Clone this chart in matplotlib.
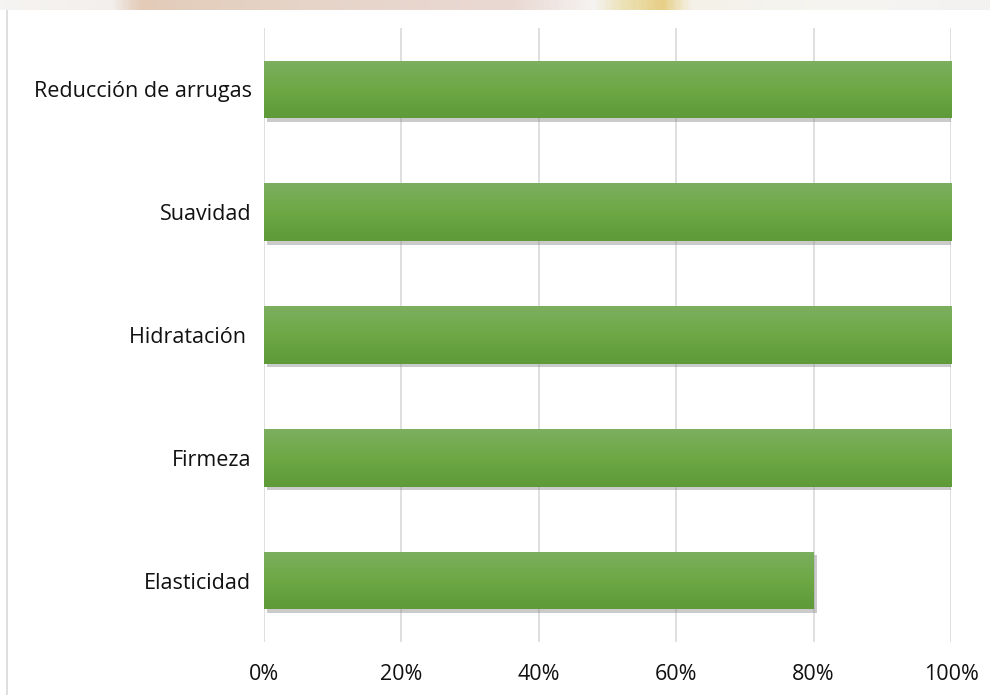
import numpy as np
import matplotlib.pyplot as plt
import matplotlib.patheffects as pe
from matplotlib.colors import LinearSegmentedColormap
from matplotlib.patches import Rectangle

categories = ['Elasticidad', 'Firmeza', 'Hidratación ', 'Suavidad', 'Reducción de arrugas']
values = [0.80, 1.0, 1.0, 1.0, 1.0]
x_ticks = [0, 0.2, 0.4, 0.6, 0.8, 1.0]
x_ticklabels = ['0%', '20%', '40%', '60%', '80%', '100%']

plt.rcParams['font.family'] = ['Open Sans', 'DejaVu Sans']

W, H = 990, 695
fig = plt.figure(figsize=(W / 100, H / 100), dpi=100)

# faded watermark strip above the chart box
band = fig.add_axes([0, 1 - 10 / H, 1, 10 / H])
band.axis('off')
band_cmap = LinearSegmentedColormap.from_list('band', [
    (0.00, '#f6f4f2'), (0.11, '#f3efec'), (0.14, '#e3cbb8'), (0.30, '#e6d4c8'),
    (0.52, '#ead9d3'), (0.60, '#f5f3f1'), (0.63, '#ece2b8'), (0.67, '#e7cf87'),
    (0.70, '#f4f1e8'), (0.85, '#f6f5f2'), (1.00, '#f3f2f1')])
band.imshow(np.linspace(0, 1, 400)[None, :], aspect='auto', cmap=band_cmap, extent=[0, 1, 0, 1])

# chart box border
fig.patches.append(Rectangle((6.5 / W, -0.05), 1.0, 1 - 9.5 / H + 0.05, transform=fig.transFigure,
                             facecolor='white', edgecolor='#d9d9d9', linewidth=1.2, zorder=-10))

ax = fig.add_axes([264 / W, 1 - 642 / H, (951 - 264) / W, (642 - 28) / H])
ax.set_facecolor('none')

y = np.arange(len(categories))
bars = ax.barh(y, values, height=0.47, color='#6ca544', zorder=2,
               path_effects=[pe.SimplePatchShadow(offset=(2.5, -2.5), shadow_rgbFace='#8c8c8c', alpha=0.45),
                             pe.Normal()])

# vertical gradient inside each bar
grad_cmap = LinearSegmentedColormap.from_list('g', ['#5e9a38', '#6da845', '#7caf5f'])
for b in bars:
    x0, y0 = b.get_x(), b.get_y()
    im = ax.imshow(np.linspace(0, 1, 100)[:, None], aspect='auto', cmap=grad_cmap,
                   extent=[x0, x0 + b.get_width(), y0, y0 + b.get_height()],
                   origin='lower', zorder=3)
    im.set_clip_path(b)

ax.set_xlim(0, 1.0)
ax.set_ylim(-0.5, len(categories) - 0.5)
ax.set_xticks(x_ticks)
ax.set_xticklabels(x_ticklabels)
ax.set_yticks(y)
ax.set_yticklabels(categories)
ax.tick_params(axis='both', length=0, labelsize=15.5, labelcolor='#111111')
ax.tick_params(axis='y', pad=9)
ax.tick_params(axis='x', pad=16)
ax.grid(axis='x', color='#d9d9d9', linewidth=1.2, zorder=0)
ax.set_axisbelow(True)
for s in ax.spines.values():
    s.set_visible(False)

fig.savefig('out.png', dpi=100)
